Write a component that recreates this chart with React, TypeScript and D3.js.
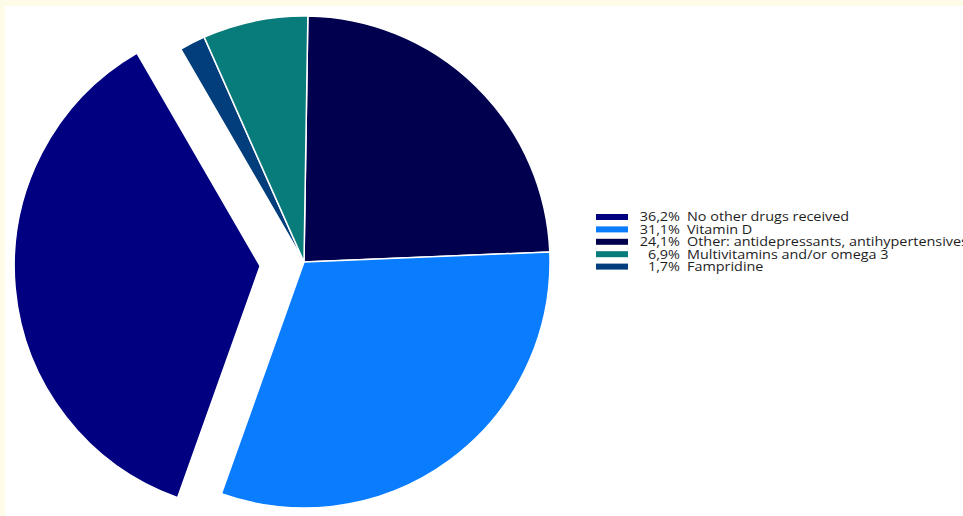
import React, { useEffect, useRef } from "react";
import * as d3 from "d3";

const labels = [
  "No other drugs received",
  "Vitamin D",
  "Other: antidepressants, antihypertensives",
  "Multivitamins and/or omega 3",
  "Fampridine",
];
const values = [36.2, 31.1, 24.1, 6.9, 1.7];
const colors = ["#000080", "#0a7dff", "#00004f", "#087b7b", "#023e7c"];
// clockwise from 12 o'clock, as drawn in the pie
const drawOrder = [2, 1, 0, 4, 3];
const exploded = 0;

export default function App() {
  const ref = useRef<SVGSVGElement | null>(null);

  useEffect(() => {
    const W = 963, H = 516;
    const svg = d3.select(ref.current);
    svg.selectAll("*").remove();
    svg.attr("viewBox", `0 0 ${W} ${H}`);

    svg.append("rect").attr("width", W).attr("height", H).attr("fill", "#fffbe9");
    svg.append("rect").attr("x", 5).attr("y", 6).attr("width", W - 5).attr("height", H - 6).attr("fill", "#ffffff");

    const cx = 304, cy = 262, r = 246;
    const start = (0.9 * Math.PI) / 180;
    const pie = d3.pie<number>().sort(null).value(i => values[i])
      .startAngle(start).endAngle(start + 2 * Math.PI);
    const arcs = pie(drawOrder);
    const arc = d3.arc<d3.PieArcDatum<number>>().innerRadius(0).outerRadius(r);

    const g = svg.append("g").attr("transform", `translate(${cx},${cy})`);
    g.selectAll("path")
      .data(arcs)
      .enter()
      .append("path")
      .attr("d", d => arc(d) as string)
      .attr("fill", d => colors[d.data])
      .attr("stroke", "#ffffff")
      .attr("stroke-width", 1.5)
      .attr("transform", d => {
        if (d.data !== exploded) return null;
        const a = (d.startAngle + d.endAngle) / 2;
        const off = 44;
        return `translate(${off * Math.sin(a)},${-off * Math.cos(a)})`;
      });

    // legend (source image is stretched sideways, hence the scaleX)
    const lx = 596, ly = 217, step = 12.4, sx = 1.2;
    const leg = svg.append("g").style("font-family", "'Open Sans', sans-serif").style("font-size", "12px").attr("fill", "#1e1e1e");
    labels.forEach((lab, i) => {
      const y = ly + i * step;
      leg.append("rect").attr("x", lx).attr("y", y - 3).attr("width", 32).attr("height", 6).attr("fill", colors[i]);
      leg.append("text").attr("transform", `translate(680,${y}) scale(${sx},1)`).attr("dy", "0.36em").attr("text-anchor", "end")
        .text(values[i].toFixed(1).replace(".", ",") + "%");
      leg.append("text").attr("transform", `translate(687,${y}) scale(${sx},1)`).attr("dy", "0.36em").text(lab);
    });
  }, []);

  return (
    <div style={{ position: "fixed", left: 0, top: 0, width: 963, height: 516 }}>
      <svg ref={ref} width={963} height={516} style={{ display: "block" }} />
    </div>
  );
}
